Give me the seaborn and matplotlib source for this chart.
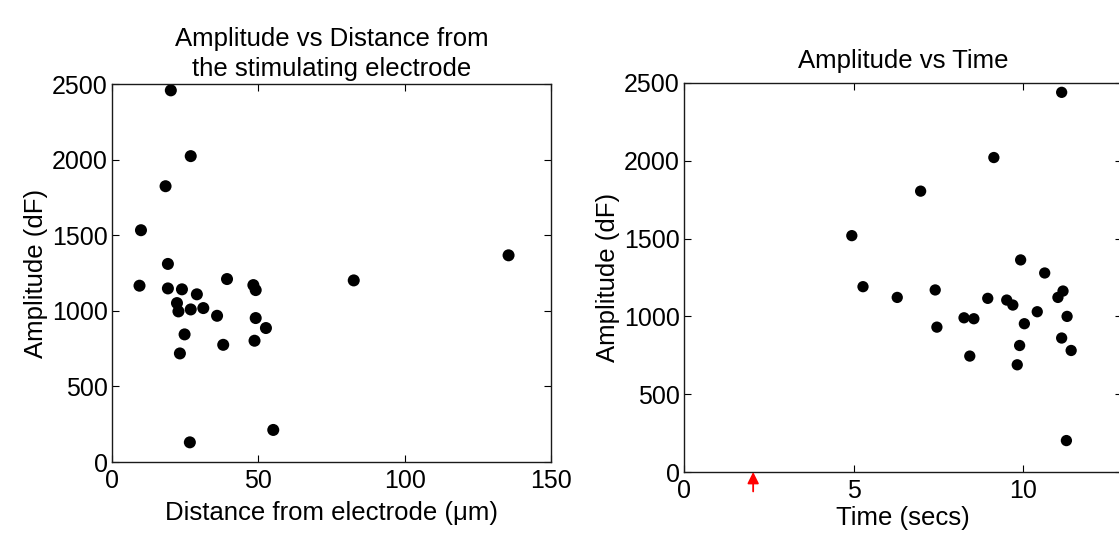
import numpy as np
import pandas as pd
import matplotlib
matplotlib.use("Agg")
import matplotlib.pyplot as plt
import seaborn as sns

# ---- data ----
dist_um = [20.1, 26.9, 18.3, 9.9, 135.5, 19.1, 9.4, 19.1, 23.9, 39.3, 82.6, 48.3, 49.1,
           29.0, 22.2, 22.7, 26.9, 31.2, 35.9, 49.1, 52.6, 24.8, 48.7, 38.0, 23.2, 55.1, 26.6]
amp_dist = [2458, 2023, 1824, 1533, 1367, 1310, 1166, 1148, 1142, 1210, 1201, 1170, 1137,
            1109, 1051, 996, 1009, 1018, 967, 952, 886, 844, 802, 775, 718, 212, 130]

time_s = [11.14, 9.14, 6.98, 4.95, 9.93, 10.64, 5.28, 7.41, 11.18, 11.03, 6.29, 8.96, 9.52,
          9.70, 10.42, 8.26, 8.55, 11.30, 10.04, 7.46, 9.90, 11.14, 11.42, 8.43, 9.83, 11.28]
amp_time = [2440, 2021, 1805, 1519, 1363, 1279, 1191, 1170, 1163, 1122, 1122, 1116, 1105,
            1073, 1030, 991, 985, 1000, 953, 931, 813, 861, 781, 745, 689, 202]

stim_time = [2.04]

y_ticks = [0, 500, 1000, 1500, 2000, 2500]
x_ticks_dist = [0, 50, 100, 150]
x_ticks_time = [0, 5, 10]

sns.set_theme(style="ticks")
plt.rcParams['font.family'] = ['Liberation Sans', 'DejaVu Sans']
plt.rcParams['text.color'] = 'black'
plt.rcParams['axes.labelcolor'] = 'black'
plt.rcParams['xtick.color'] = 'black'
plt.rcParams['ytick.color'] = 'black'

fig = plt.figure(figsize=(11.19, 5.33), dpi=100)
fig.patch.set_facecolor('white')

ax1 = fig.add_axes([112/1119, 1-462/533, 439/1119, 378/533])
ax2 = fig.add_axes([684/1119, 1-472/533, 438/1119, 389/533])

df1 = pd.DataFrame({'d': dist_um, 'a': amp_dist})
df2 = pd.DataFrame({'t': time_s, 'a': amp_time})

sns.scatterplot(data=df1, x='d', y='a', ax=ax1, color='black', s=75, edgecolor='none', linewidth=0)
sns.scatterplot(data=df2, x='t', y='a', ax=ax2, color='black', s=66, edgecolor='none', linewidth=0)

tfs = 18
lfs = 18.5
for ax in (ax1, ax2):
    ax.set_yticks(y_ticks)
    ax.set_ylim(0, 2500)
    ax.tick_params(direction='in', length=5, width=0.8, top=True, right=True,
                   labelsize=tfs, colors='black')
    ax.tick_params(axis='y', pad=3)
    ax.tick_params(axis='x', pad=5)
    for sp in ax.spines.values():
        sp.set_visible(True)
        sp.set_color('#1a1a1a')
        sp.set_linewidth(1.0)
    ax.set_ylabel('Amplitude (dF)', fontsize=lfs, labelpad=3, color='black')

ax1.set_xticks(x_ticks_dist)
ax1.set_xlim(0, 150)
ax1.set_xlabel('Distance from electrode (μm)', fontsize=lfs, labelpad=6, color='black')
ax1.set_title('Amplitude vs Distance from\nthe stimulating electrode', fontsize=lfs, pad=6,
              linespacing=1.3, color='black')

ax2.set_xticks(x_ticks_time)
ax2.set_xlim(0, 12.92)
ax2.set_xlabel('Time (secs)', fontsize=lfs, labelpad=2, color='black')
ax2.set_title('Amplitude vs Time', fontsize=lfs, pad=11, color='black')

for t in stim_time:
    ax2.annotate('', xy=(t, 0), xytext=(0, -14), textcoords='offset points',
                 xycoords='data', annotation_clip=False,
                 arrowprops=dict(arrowstyle='-|>', color='red', lw=1.3, mutation_scale=17,
                                 shrinkA=0, shrinkB=0))

fig.savefig('out.png', dpi=100, facecolor='white')
